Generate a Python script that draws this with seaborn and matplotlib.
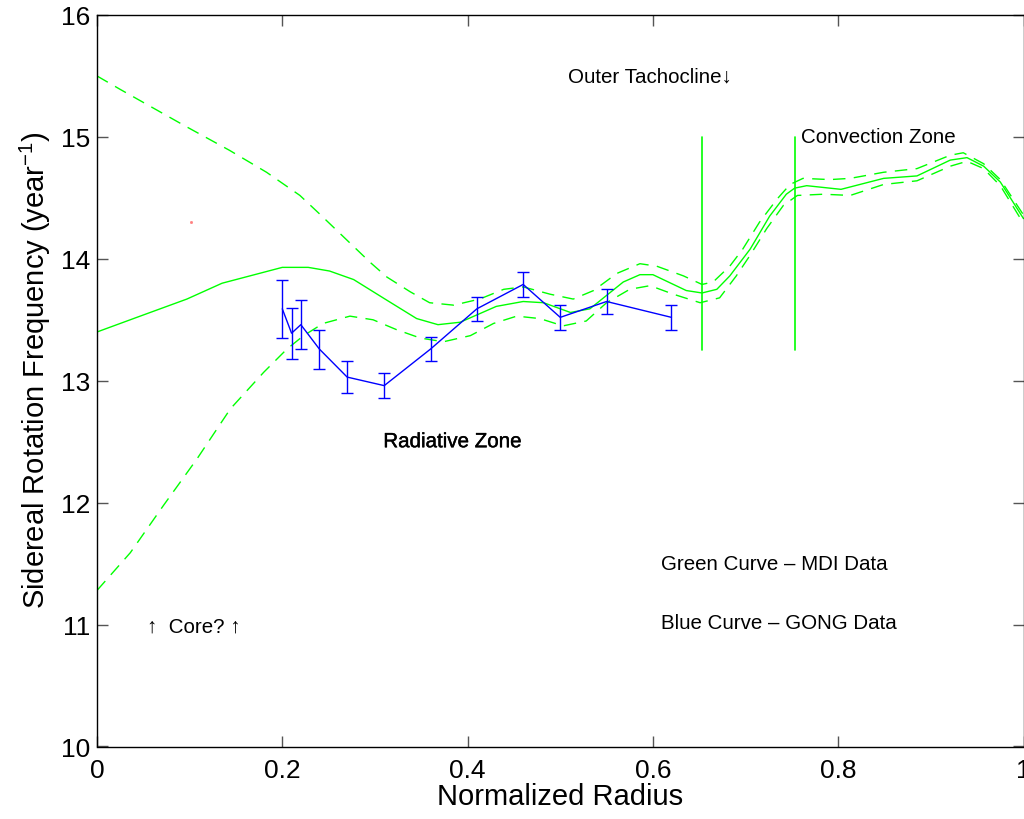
import matplotlib
matplotlib.use("Agg")
import matplotlib.pyplot as plt
import matplotlib.patheffects as pe
import seaborn as sns
import pandas as pd
import numpy as np

# ---- data ----
mdi_r = [0, 0.043, 0.097, 0.135, 0.2, 0.228, 0.251, 0.277, 0.313, 0.345, 0.368, 0.392,
         0.431, 0.46, 0.482, 0.511, 0.532, 0.568, 0.586, 0.6, 0.636, 0.653, 0.669, 0.683,
         0.705, 0.726, 0.744, 0.753, 0.766, 0.803, 0.849, 0.885, 0.921, 0.939, 0.957, 0.975, 1.0]
mdi_v = [13.40, 13.52, 13.67, 13.80, 13.93, 13.93, 13.90, 13.83, 13.66, 13.51, 13.46, 13.48,
         13.61, 13.65, 13.64, 13.56, 13.59, 13.81, 13.87, 13.87, 13.74, 13.72, 13.75, 13.86,
         14.08, 14.35, 14.53, 14.58, 14.60, 14.57, 14.66, 14.68, 14.81, 14.83, 14.76, 14.63, 14.33]

upper_r = [0, 0.025, 0.095, 0.143, 0.183, 0.219, 0.24, 0.295, 0.313, 0.338, 0.359, 0.385,
           0.413, 0.439, 0.46, 0.489, 0.514, 0.536, 0.561, 0.586, 0.604, 0.633, 0.653, 0.665,
           0.683, 0.697, 0.715, 0.734, 0.748, 0.762, 0.791, 0.813, 0.849, 0.885, 0.921, 0.935,
           0.957, 0.975, 1.0]
upper_v = [15.50, 15.39, 15.09, 14.89, 14.71, 14.52, 14.37, 13.97, 13.85, 13.73, 13.64, 13.62,
           13.67, 13.75, 13.77, 13.71, 13.67, 13.74, 13.88, 13.96, 13.94, 13.86, 13.79, 13.81,
           13.94, 14.08, 14.30, 14.49, 14.61, 14.66, 14.65, 14.66, 14.71, 14.74, 14.85, 14.87,
           14.78, 14.65, 14.36]

lower_r = [0, 0.036, 0.072, 0.108, 0.144, 0.18, 0.205, 0.223, 0.244, 0.273, 0.298, 0.323,
           0.349, 0.374, 0.403, 0.428, 0.453, 0.478, 0.503, 0.528, 0.55, 0.575, 0.597, 0.622,
           0.651, 0.672, 0.69, 0.705, 0.723, 0.741, 0.756, 0.784, 0.813, 0.849, 0.885, 0.921,
           0.939, 0.957, 0.975, 1.0]
lower_v = [11.28, 11.59, 11.98, 12.36, 12.77, 13.07, 13.26, 13.37, 13.47, 13.53, 13.50, 13.42,
           13.35, 13.32, 13.37, 13.47, 13.53, 13.51, 13.45, 13.49, 13.64, 13.75, 13.78, 13.71,
           13.64, 13.68, 13.86, 14.03, 14.25, 14.44, 14.52, 14.53, 14.52, 14.61, 14.64, 14.76,
           14.80, 14.74, 14.60, 14.29]

gong_r = [0.20, 0.21, 0.22, 0.24, 0.27, 0.31, 0.36, 0.41, 0.46, 0.50, 0.55, 0.62]
gong_v = [13.59, 13.39, 13.46, 13.26, 13.03, 12.96, 13.26, 13.59, 13.79, 13.52, 13.65, 13.52]
gong_err = [0.24, 0.21, 0.20, 0.16, 0.13, 0.10, 0.10, 0.10, 0.10, 0.10, 0.10, 0.10]

boundary_r = [0.653, 0.753]
boundary_lo = 13.25
boundary_hi = 15.0

# ---- style ----
sns.set_theme(style="ticks")
plt.rcParams['font.family'] = ['Liberation Sans', 'DejaVu Sans']
plt.rcParams['mathtext.fontset'] = 'custom'
plt.rcParams['mathtext.rm'] = 'Liberation Sans'
plt.rcParams['mathtext.it'] = 'Liberation Sans'
plt.rcParams['mathtext.default'] = 'regular'

fig = plt.figure(figsize=(10.24, 8.2), dpi=100)
ax = fig.add_axes([97/1024, 1 - 747.5/820, (1023.5-97)/1024, (747.5-16)/820])

green = '#00ff00'
blue = '#0000ff'

df_mdi = pd.DataFrame({'r': mdi_r, 'v': mdi_v})
df_up = pd.DataFrame({'r': upper_r, 'v': upper_v})
df_lo = pd.DataFrame({'r': lower_r, 'v': lower_v})
df_gong = pd.DataFrame({'r': gong_r, 'v': gong_v})

sns.lineplot(data=df_mdi, x='r', y='v', ax=ax, color=green, lw=1.0, sort=False, estimator=None)
sns.lineplot(data=df_up, x='r', y='v', ax=ax, color=green, lw=1.0, sort=False, estimator=None)
sns.lineplot(data=df_lo, x='r', y='v', ax=ax, color=green, lw=1.0, sort=False, estimator=None)
ax.lines[1].set_dashes((9, 6))
ax.lines[2].set_dashes((9, 6))

for xr in boundary_r:
    ax.plot([xr, xr], [boundary_lo, boundary_hi], color=green, lw=1.2)

sns.lineplot(data=df_gong, x='r', y='v', ax=ax, color=blue, lw=1.0, sort=False, estimator=None)
ax.errorbar(gong_r, gong_v, yerr=gong_err, fmt='none', ecolor=blue, elinewidth=1.0,
            capsize=4, capthick=1.0)

# stray mark
ax.plot([0.101], [14.30], marker='s', ms=1, color='#ff8080', lw=0)

# ---- text ----
fs = 14.8
ax.text(0.508, 15.5, 'Outer Tachocline\u2193', fontsize=fs, va='center', ha='left', color='black')
ax.text(0.760, 15.0, 'Convection Zone', fontsize=fs, va='center', ha='left', color='black')
ax.text(0.309, 12.5, 'Radiative Zone', fontsize=fs, va='center', ha='left', color='black',
        path_effects=[pe.withStroke(linewidth=0.3, foreground='black')])
ax.text(0.609, 11.5, 'Green Curve \u2013 MDI Data', fontsize=fs, va='center', ha='left', color='black')
ax.text(0.609, 11.02, 'Blue Curve \u2013 GONG Data', fontsize=fs, va='center', ha='left', color='black')
ax.text(0.054, 10.99, '\u2191  Core? \u2191', fontsize=fs, va='center', ha='left', color='black')

# ---- axes ----
ax.set_xlim(0, 1)
ax.set_ylim(10, 16)
ax.set_xticks([0, 0.2, 0.4, 0.6, 0.8, 1])
ax.set_xticklabels(['0', '0.2', '0.4', '0.6', '0.8', '1'])
ax.set_yticks([10, 11, 12, 13, 14, 15, 16])
ax.tick_params(axis='both', direction='in', length=8, width=1, color='#555555',
               labelsize=19, labelcolor='black', top=True, right=True)
ax.tick_params(axis='x', pad=8)
ax.tick_params(axis='y', pad=5)
for s in ax.spines.values():
    s.set_visible(True)
    s.set_color('black')
    s.set_linewidth(1.0)

ax.set_xlabel('Normalized Radius', fontsize=21, color='black', labelpad=0)
ax.set_ylabel('Sidereal Rotation Frequency (year$^{-1}$)', fontsize=21, color='black')
ax.yaxis.set_label_coords(-0.048, 0.516)

fig.savefig('out.png', dpi=100)
